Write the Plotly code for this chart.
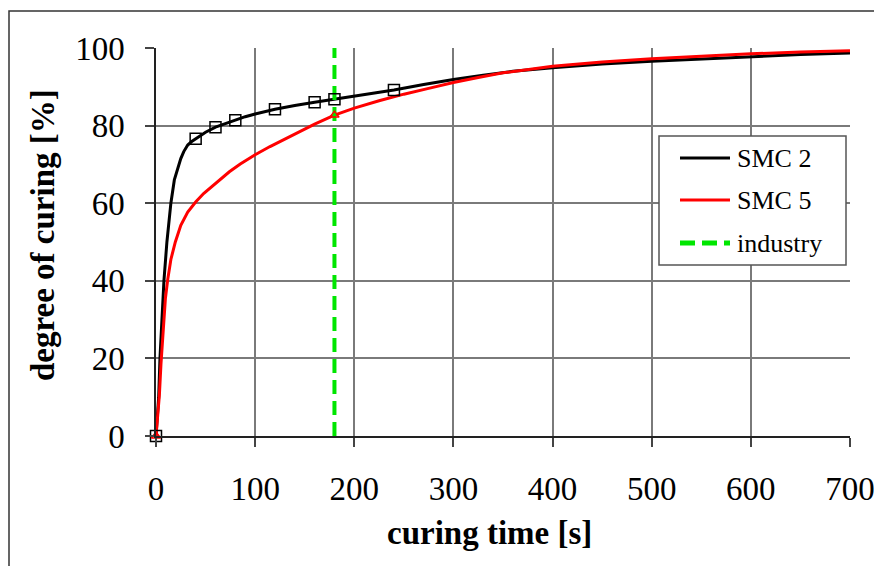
import plotly.graph_objects as go

# ---- data ----
smc2_t = [0, 1.5, 2.7, 4, 5.7, 8, 11, 15, 18.5, 22, 25, 28, 32, 36, 40, 50, 60, 70, 80, 90, 100,
          120, 140, 160, 180, 200, 220, 240, 270, 300, 330, 360, 400, 450, 500, 550, 600, 650, 700]
smc2_v = [0, 5, 10, 20, 30, 40, 50, 60, 66, 69.3, 71.5, 73.3, 75, 75.9, 76.6, 78.3, 79.6, 80.6, 81.4, 82.3, 83.0,
          84.2, 85.2, 86.0, 86.8, 87.6, 88.4, 89.2, 90.6, 91.9, 93.0, 94.0, 94.9, 95.9, 96.6, 97.2, 97.8, 98.3, 98.7]

smc5_t = [0, 1.5, 3.4, 5, 7.4, 9.5, 11.8, 15, 19.5, 25, 32, 40, 48, 57, 65, 74, 85, 100, 115, 130, 145,
          160, 180, 200, 225, 250, 275, 300, 325, 350, 400, 450, 500, 550, 600, 650, 700]
smc5_v = [0, 4.5, 10.5, 18.5, 28.5, 35.5, 40.3, 45.5, 50, 54.3, 57.7, 60.3, 62.5, 64.5, 66.3, 68.1, 70.1, 72.5, 74.6, 76.6, 78.5,
          80.4, 82.7, 84.5, 86.4, 88.1, 89.6, 91.1, 92.4, 93.6, 95.3, 96.4, 97.2, 97.9, 98.5, 99.0, 99.3]

smc2_mark_t = [0, 40, 60, 80, 120, 160, 180, 240]
smc2_mark_v = [0, 76.6, 79.6, 81.4, 84.2, 86.0, 86.8, 89.2]

smc5_mark_t = [0, 180]
smc5_mark_v = [0, 82.7]

industry_t = [180, 180]
industry_v = [0, 100]

x_ticks = [0, 100, 200, 300, 400, 500, 600, 700]
y_ticks = [0, 20, 40, 60, 80, 100]

legend_labels = ["SMC 2", "SMC 5", "industry"]

FONT = "Liberation Serif, Times New Roman, serif"
GREEN = "#00e600"
RED = "#ff0000"
GREEN_DASH = "14px,7px"

fig = go.Figure()

fig.add_trace(go.Scatter(x=smc2_t, y=smc2_v, mode="lines", name=legend_labels[0],
                         line=dict(color="black", width=3), showlegend=False))
fig.add_trace(go.Scatter(x=smc5_t, y=smc5_v, mode="lines", name=legend_labels[1],
                         line=dict(color=RED, width=3), showlegend=False))
fig.add_trace(go.Scatter(x=industry_t, y=industry_v, mode="lines", name=legend_labels[2],
                         line=dict(color=GREEN, width=4, dash=GREEN_DASH), showlegend=False))
fig.add_trace(go.Scatter(x=smc2_mark_t, y=smc2_mark_v, mode="markers", showlegend=False,
                         cliponaxis=False,
                         marker=dict(symbol="square-open", size=11, color="black",
                                     line=dict(width=1.5, color="black"))))
fig.add_trace(go.Scatter(x=smc5_mark_t, y=smc5_mark_v, mode="markers", showlegend=False,
                         cliponaxis=False,
                         marker=dict(symbol="triangle-up-open", size=8, color=RED,
                                     line=dict(width=1.5, color=RED))))

axis_common = dict(
    showgrid=True, gridcolor="#7a7a7a", gridwidth=1.5,
    showline=True, linecolor="#222", linewidth=1.5,
    ticks="outside", ticklen=9, tickwidth=1.5, tickcolor="#444",
    zeroline=False, automargin=False,
    tickfont=dict(family=FONT, size=33, color="black"),
)

fig.update_xaxes(range=[0, 700], tickvals=x_ticks, ticklabelstandoff=14,
                 ticklabeloverflow="allow", **axis_common)
fig.update_yaxes(range=[0, 100], tickvals=y_ticks, ticklabelstandoff=14, **axis_common)

# pixel -> paper helpers for chrome (frame, legend, titles)
PL, PR, PT, PB = 156, 850, 48, 436
def px(x):
    return (x - PL) / (PR - PL)
def py(y):
    return (PB - y) / (PB - PT)

shapes = [
    dict(type="rect", xref="paper", yref="paper",
         x0=px(9), x1=px(890), y0=py(590), y1=py(11),
         line=dict(color="#333", width=1.5), fillcolor="rgba(0,0,0,0)", layer="below"),
    # legend box
    dict(type="rect", xref="paper", yref="paper",
         x0=px(659), x1=px(846), y0=py(265), y1=py(136),
         line=dict(color="#555", width=1.5), fillcolor="white", layer="above"),
]
legend_styles = [dict(color="black", width=3), dict(color=RED, width=3),
                 dict(color=GREEN, width=5, dash="15px,7px")]
legend_rows = [158, 200, 243]
annotations = []
for lab, sty, yy in zip(legend_labels, legend_styles, legend_rows):
    shapes.append(dict(type="line", xref="paper", yref="paper",
                       x0=px(680), x1=px(730), y0=py(yy), y1=py(yy),
                       line=sty, layer="above"))
    annotations.append(dict(text=lab, xref="paper", yref="paper", x=px(735), y=py(yy),
                            xanchor="left", yanchor="middle", showarrow=False,
                            font=dict(family=FONT, size=26, color="black")))

annotations += [
    dict(text="<b>curing time [s]</b>", xref="paper", yref="paper",
         x=px(489), y=py(533), xanchor="center", yanchor="middle",
         showarrow=False, font=dict(family=FONT, size=33, color="black")),
    dict(text="<b>degree of curing [%]</b>", xref="paper", yref="paper",
         x=px(43), y=py(235), xanchor="center", yanchor="middle",
         textangle=-90, showarrow=False, font=dict(family=FONT, size=33, color="black")),
]

fig.update_layout(
    width=874, height=566,
    margin=dict(l=PL, r=874 - PR, t=PT, b=566 - PB, autoexpand=False),
    plot_bgcolor="white", paper_bgcolor="white",
    font=dict(family=FONT, color="black"),
    showlegend=False,
    annotations=annotations,
    shapes=shapes,
)

fig.write_html("out.html", config={"displayModeBar": False},
               post_script="document.body.style.margin='0';document.body.style.overflow='hidden';")
